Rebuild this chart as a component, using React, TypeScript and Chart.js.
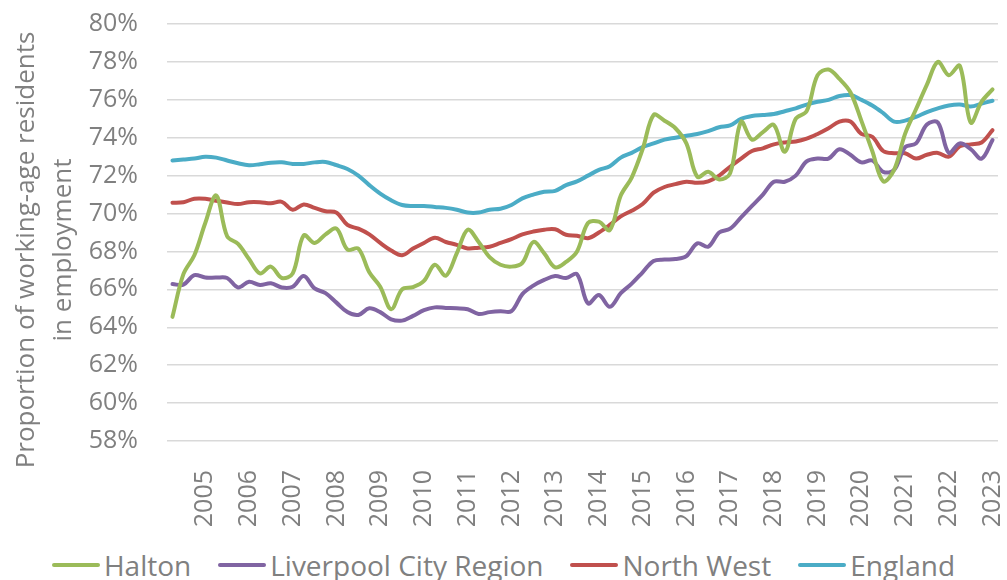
import React, { useEffect, useRef } from "react";
import { Chart, registerables } from "chart.js";

Chart.register(...registerables);

// Tick labels shown on the x axis (every 4th quarter, the Q1 of each year)
const yearLabels = [
  "2005", "2006", "2007", "2008", "2009", "2010", "2011", "2012", "2013", "2014",
  "2015", "2016", "2017", "2018", "2019", "2020", "2021", "2022", "2023",
];

// Quarterly categories: 2004 Q2 ... 2023 Q1 (76 periods)
const categories = Array.from({ length: 76 }, (_, i) => {
  const year = 2004 + Math.floor((i + 1) / 4);
  const q = ((i + 1) % 4) + 1;
  return `${year} Q${q}`;
});

const halton = [
  64.55, 66.8, 67.8, 69.5, 70.95, 68.8, 68.4, 67.6, 66.84, 67.2,
  66.6, 66.84, 68.85, 68.45, 68.9, 69.2, 68.1, 68.15, 66.9, 66.14,
  64.95, 66.0, 66.12, 66.45, 67.3, 66.72, 67.9, 69.15, 68.5, 67.7,
  67.3, 67.2, 67.4, 68.5, 67.9, 67.16, 67.45, 68.0, 69.5, 69.57,
  69.13, 70.95, 71.9, 73.4, 75.2, 74.9, 74.5, 73.7, 71.94, 72.2,
  71.8, 72.12, 74.84, 73.9, 74.3, 74.67, 73.26, 75.0, 75.4, 77.3,
  77.6, 77.1, 76.4, 74.9, 73.3, 71.7, 72.3, 74.2, 75.5, 76.8,
  78.0, 77.3, 77.8, 74.8, 75.9, 76.55,
];

const liverpool = [
  66.28, 66.25, 66.75, 66.62, 66.62, 66.6, 66.1, 66.4, 66.23, 66.32,
  66.1, 66.14, 66.7, 66.05, 65.8, 65.3, 64.8, 64.65, 65.0, 64.8,
  64.42, 64.35, 64.6, 64.9, 65.05, 65.02, 65.0, 64.95, 64.7, 64.8,
  64.85, 64.85, 65.75, 66.2, 66.5, 66.7, 66.6, 66.8, 65.26, 65.7,
  65.08, 65.8, 66.3, 66.9, 67.5, 67.57, 67.6, 67.75, 68.43, 68.25,
  69.0, 69.2, 69.8, 70.4, 71.0, 71.68, 71.68, 72.0, 72.75, 72.9,
  72.9, 73.39, 73.1, 72.7, 72.8, 72.2, 72.3, 73.5, 73.7, 74.7,
  74.8, 73.2, 73.7, 73.4, 72.9, 73.88,
];

const northWest = [
  70.57, 70.6, 70.78, 70.78, 70.68, 70.58, 70.5, 70.6, 70.6, 70.54,
  70.62, 70.2, 70.48, 70.3, 70.12, 70.05, 69.4, 69.2, 68.9, 68.45,
  68.05, 67.8, 68.15, 68.45, 68.72, 68.5, 68.35, 68.16, 68.2, 68.25,
  68.45, 68.65, 68.9, 69.05, 69.15, 69.17, 68.88, 68.83, 68.7, 69.0,
  69.4, 69.85, 70.15, 70.5, 71.1, 71.4, 71.55, 71.68, 71.62, 71.7,
  72.0, 72.47, 72.9, 73.3, 73.44, 73.65, 73.75, 73.8, 73.95, 74.2,
  74.5, 74.85, 74.85, 74.2, 74.05, 73.3, 73.18, 73.18, 72.9, 73.1,
  73.2, 73.0, 73.55, 73.65, 73.75, 74.4,
];

const england = [
  72.8, 72.85, 72.9, 73.0, 72.95, 72.8, 72.65, 72.55, 72.6, 72.68,
  72.7, 72.62, 72.62, 72.7, 72.72, 72.55, 72.35, 72.0, 71.5, 71.05,
  70.7, 70.45, 70.4, 70.4, 70.35, 70.3, 70.2, 70.05, 70.05, 70.2,
  70.25, 70.45, 70.8, 71.0, 71.15, 71.2, 71.5, 71.7, 72.0, 72.3,
  72.5, 72.95, 73.2, 73.5, 73.7, 73.9, 74.0, 74.1, 74.2, 74.35,
  74.55, 74.65, 75.0, 75.15, 75.2, 75.25, 75.4, 75.55, 75.75, 75.9,
  76.0, 76.2, 76.25, 76.0, 75.7, 75.3, 74.85, 74.9, 75.1, 75.35,
  75.55, 75.7, 75.75, 75.65, 75.8, 75.95,
];

const seriesNames = ["Halton", "Liverpool City Region", "North West", "England"];
const seriesColors = ["#9BBB59", "#8064A2", "#C0504D", "#4BACC6"];
const yTitleLines = ["Proportion of working-age residents", "in employment"];

const FONT = '"Open Sans", "DejaVu Sans", sans-serif';
const TEXT = "#808080";

const yTitlePlugin = {
  id: "yTitleCustom",
  afterDraw(chart: any) {
    const ctx = chart.ctx;
    ctx.save();
    ctx.translate(0, 250);
    ctx.rotate(-Math.PI / 2);
    ctx.font = `26px ${FONT}`;
    ctx.fillStyle = TEXT;
    ctx.textAlign = "center";
    ctx.textBaseline = "alphabetic";
    ctx.fillText(yTitleLines[0], 0, 34);
    ctx.fillText(yTitleLines[1], 0, 71);
    ctx.restore();
  },
};

export default function App() {
  const canvasRef = useRef<HTMLCanvasElement | null>(null);

  useEffect(() => {
    if (!canvasRef.current) return;
    const values = [halton, liverpool, northWest, england];
    const chart = new Chart(canvasRef.current, {
      type: "line",
      data: {
        labels: categories,
        datasets: values.map((d, i) => ({
          label: seriesNames[i],
          data: d,
          borderColor: seriesColors[i],
          backgroundColor: seriesColors[i],
          borderWidth: 4,
          pointRadius: 0,
          tension: 0.35,
          borderJoinStyle: "round" as const,
          borderCapStyle: "round" as const,
          fill: false,
        })),
      },
      options: {
        animation: false,
        responsive: false,
        layout: { padding: { top: 24, right: 9, left: 0, bottom: 0 } },
        plugins: {
          legend: { display: false },
          tooltip: { enabled: false },
        },
        scales: {
          x: {
            type: "category",
            offset: true,
            grid: { display: false },
            border: { display: false },
            ticks: {
              autoSkip: false,
              maxRotation: 90,
              minRotation: 90,
              padding: 21,
              color: TEXT,
              font: { size: 25, family: FONT },
              callback: (_v: any, index: number) =>
                index % 4 === 3 ? yearLabels[(index - 3) / 4] : "",
            },
            afterFit: (s: any) => {
              s.height = 94;
              s.paddingLeft = 0;
              s.paddingRight = 0;
            },
          },
          y: {
            min: 58,
            max: 80,
            grid: { color: "#d9d9d9", lineWidth: 1.5, drawTicks: false },
            border: { display: false },
            ticks: {
              stepSize: 2,
              padding: 29,
              color: TEXT,
              font: { size: 25, family: FONT },
              callback: (v: any) => `${v}%`,
            },
            afterFit: (s: any) => {
              s.width = 167;
              s.paddingTop = 0;
              s.paddingBottom = 0;
            },
          },
        },
      },
      plugins: [yTitlePlugin],
    });
    return () => chart.destroy();
  }, []);

  return (
    <div
      style={{
        position: "absolute",
        left: 0,
        top: 0,
        width: 1007,
        height: 580,
        overflow: "hidden",
        background: "#fff",
        fontFamily: FONT,
      }}
    >
      <canvas ref={canvasRef} width={1007} height={535} style={{ display: "block" }} />
      <div
        style={{
          position: "absolute",
          left: 0,
          top: 545,
          width: 1007,
          height: 40,
          display: "flex",
          justifyContent: "center",
          alignItems: "center",
        }}
      >
        {seriesNames.map((name, i) => (
          <div
            key={name}
            style={{
              display: "flex",
              alignItems: "center",
              marginRight: i < seriesNames.length - 1 ? 27 : 0,
            }}
          >
            <span
              style={{
                display: "inline-block",
                width: 48,
                height: 4,
                borderRadius: 2,
                background: seriesColors[i],
                marginRight: 4,
              }}
            />
            <span style={{ fontSize: 28, color: TEXT, lineHeight: 1 }}>{name}</span>
          </div>
        ))}
      </div>
    </div>
  );
}
